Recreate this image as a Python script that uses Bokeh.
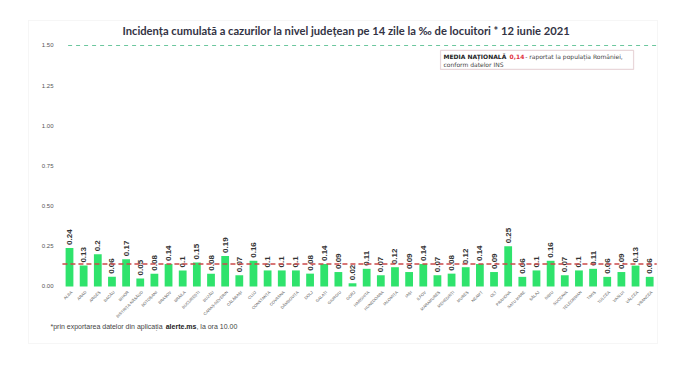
import math
from bokeh.plotting import figure
from bokeh.models import ColumnDataSource, Label, BoxAnnotation, Range1d
from bokeh.core.properties import value
from bokeh.embed import file_html
from bokeh.resources import INLINE

counties = ["ALBA", "ARAD", "ARGEȘ", "BACĂU", "BIHOR", "BISTRIȚA-NĂSĂUD", "BOTOȘANI", "BRAȘOV",
            "BRĂILA", "BUCUREȘTI", "BUZĂU", "CARAȘ-SEVERIN", "CĂLĂRAȘI", "CLUJ", "CONSTANȚA",
            "COVASNA", "DÂMBOVIȚA", "DOLJ", "GALAȚI", "GIURGIU", "GORJ", "HARGHITA", "HUNEDOARA",
            "IALOMIȚA", "IAȘI", "ILFOV", "MARAMUREȘ", "MEHEDINȚI", "MUREȘ", "NEAMȚ", "OLT",
            "PRAHOVA", "SATU MARE", "SĂLAJ", "SIBIU", "SUCEAVA", "TELEORMAN", "TIMIȘ", "TULCEA",
            "VASLUI", "VÂLCEA", "VRANCEA"]
incidence = [0.24, 0.13, 0.2, 0.06, 0.17, 0.05, 0.08, 0.14,
             0.1, 0.15, 0.08, 0.19, 0.07, 0.16, 0.1,
             0.1, 0.1, 0.08, 0.14, 0.09, 0.02, 0.11, 0.07,
             0.12, 0.09, 0.14, 0.07, 0.08, 0.12, 0.14, 0.09,
             0.25, 0.06, 0.1, 0.16, 0.07, 0.1, 0.11, 0.06,
             0.09, 0.13, 0.06]
national_average = 0.14
threshold = 1.5
y_ticks = [0, 0.25, 0.5, 0.75, 1.0, 1.25, 1.5]
y_tick_labels = ["0.00", "0.25", "0.50", "0.75", "1.00", "1.25", "1.50"]

title_text = "Incidența cumulată a cazurilor la nivel județean pe 14 zile la ‰ de locuitori *  12 iunie 2021"

idx = list(range(len(counties)))
src = ColumnDataSource(dict(x=idx, county=counties, val=incidence,
                            lbl=[f"{v:g}" for v in incidence], zero=[0] * len(counties)))
ysrc = ColumnDataSource(dict(y=y_ticks, lbl=y_tick_labels, xl=[-1.13] * len(y_ticks)))

p = figure(x_range=Range1d(-4.876, 43.46), y_range=Range1d(-0.4357, 1.780),
           width=684, height=356, output_backend="svg", toolbar_location=None,
           x_axis_location=None, y_axis_location=None,
           min_border=0, background_fill_color="white", border_fill_color="white",
           outline_line_color=None)
p.xgrid.grid_line_color = None
p.ygrid.grid_line_color = None

# card
p.add_layout(BoxAnnotation(left=-2.898, right=41.555, bottom=-0.3548, top=1.6556,
                           fill_alpha=0, line_color="#e2e2e2", line_width=1))

p.vbar(x="x", top="val", width=0.55, source=src, fill_color="#2fe36c", line_color=None)
p.text(x="x", y="val", text="lbl", source=src, angle=math.pi / 2,
       text_align="left", text_baseline="middle", y_offset=-3,
       text_font=value("Liberation Sans"), text_font_size="8px", text_font_style="bold",
       text_color="#333333")

# category tick labels
p.text(x="x", y="zero", text="county", source=src, angle=math.pi / 4,
       text_align="right", text_baseline="middle", x_offset=2, y_offset=5,
       text_font=value("Liberation Sans"), text_font_size="4px", text_color="#555555")
# value tick labels
p.text(x="xl", y="y", text="lbl", source=ysrc, text_align="right", text_baseline="middle",
       text_font=value("Liberation Sans"), text_font_size="6px", text_color="#555555")

# reference lines
p.segment(x0=[-0.5], y0=[national_average], x1=[41.5], y1=[national_average],
          line_color="#cc4a4a", line_dash="5 3", line_width=1.3, level="overlay")
p.segment(x0=[-0.1], y0=[threshold], x1=[41.5], y1=[threshold], line_color="#6cc79e",
          line_dash="4 4", line_width=1.2)

# title
p.add_layout(Label(x=19.65, y=1.593, text=title_text, text_align="center", text_baseline="middle",
                   text_font="Lato", text_font_size="11.2px", text_font_style="bold",
                   text_color="#333344"))

# national average box
p.add_layout(BoxAnnotation(left=26.22, right=39.86, bottom=1.351, top=1.469,
                           fill_color="white", fill_alpha=1, line_color="#b77a85", line_width=1.2))
p.add_layout(Label(x=26.43, y=1.432, text="MEDIA NAȚIONALĂ", text_baseline="middle",
                   text_font="DejaVu Sans", text_font_size="6px", text_font_style="bold",
                   text_color="#222222"))
p.add_layout(Label(x=31.1, y=1.432, text=f"{national_average:.2f}".replace(".", ","),
                   text_baseline="middle", text_font="DejaVu Sans", text_font_size="6px",
                   text_font_style="bold", text_color="#e03040"))
p.add_layout(Label(x=32.2, y=1.432, text="- raportat la populația României,",
                   text_baseline="middle", text_font="DejaVu Sans", text_font_size="6px",
                   text_color="#444444"))
p.add_layout(Label(x=26.43, y=1.382, text="conform datelor INS", text_baseline="middle",
                   text_font="DejaVu Sans", text_font_size="6px", text_color="#444444"))

# footnote
p.add_layout(Label(x=-1.343, y=-0.249, text="*prin exportarea datelor din aplicația",
                   text_baseline="middle", text_font="Liberation Sans", text_font_size="7px",
                   text_color="#444444"))
p.add_layout(Label(x=6.8, y=-0.249, text="alerte.ms", text_baseline="middle",
                   text_font="Liberation Sans", text_font_size="7px", text_font_style="bold",
                   text_color="#222222"))
p.add_layout(Label(x=8.97, y=-0.249, text=", la ora 10.00", text_baseline="middle",
                   text_font="Liberation Sans", text_font_size="7px", text_color="#444444"))

open("out.html", "w").write(file_html(p, INLINE))
